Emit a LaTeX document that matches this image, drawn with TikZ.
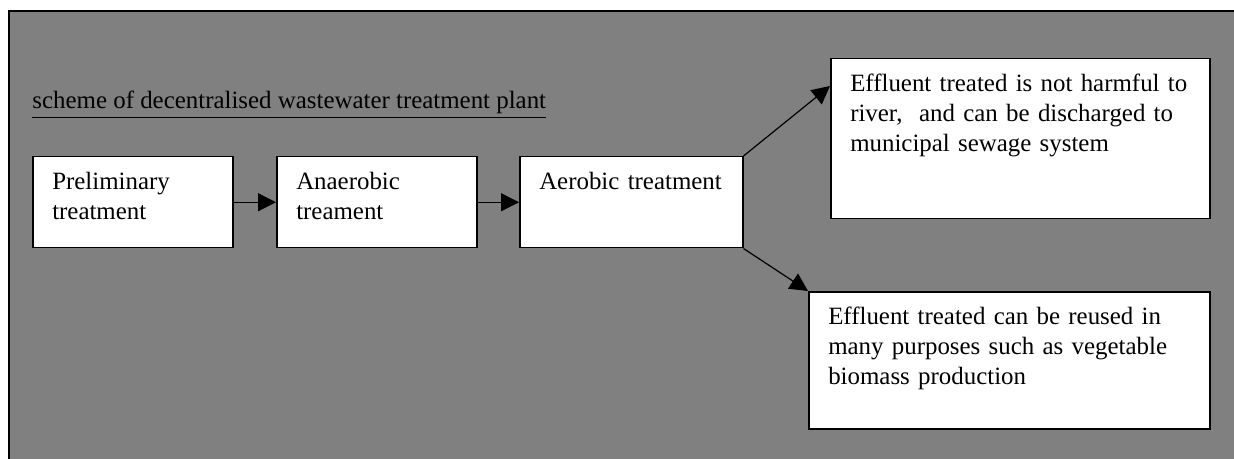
\documentclass[tikz,border=0pt]{standalone}
\usepackage{fontspec}
\setmainfont{Liberation Serif}
\usepackage{tikz}
\usetikzlibrary{positioning,calc,arrows.meta}
\definecolor{SchemeGray}{HTML}{808080}

\tikzset{
  stage/.style={draw, fill=white, line width=0.75pt, anchor=north west,
    align=left, inner xsep=9.75pt, inner ysep=0pt, text height=16.2pt,
    font=\fontsize{12.45}{15}\selectfont},
  flow/.style={line width=0.6pt, -{Triangle[length=9pt,width=9pt]}}
}

\begin{document}
\begin{tikzpicture}[x=0.5pt,y=-0.5pt]
        \useasboundingbox (0,0) rectangle (1234,459);
        \fill[white] (0,0) rectangle (1234,459);
        \fill[SchemeGray] (9,11) rectangle (1234,459);
        \draw[line width=1pt] (9,459) -- (9,11) -- (1234,11);
        \node[anchor=base west, inner sep=0pt, font=\fontsize{12.45}{15}\selectfont] (title) at (32,109)
          {\underline{scheme of decentralised wastewater treatment plant}};
        % treatment chain
        \node[stage, text width=80.5pt, text depth=29.3pt] (pre) at (32,156) {Preliminary\\treatment};
        \node[stage, text width=80.5pt, text depth=29.3pt] (ana) at (276,156) {Anaerobic\\treament};
        \node[stage, text width=92pt, text depth=29.3pt] (aer) at (519,156) {Aerobic treatment};
        % outlets
        \node[stage, text width=170pt, text depth=63.8pt] (riv) at (830,58)
          {Effluent treated is not harmful to\\river, \ and can be discharged to\\municipal sewage system};
        \node[stage, text width=181pt, text depth=52.3pt] (reu) at (808,291)
          {Effluent treated can be reused in\\many purposes such as vegetable\\biomass production};
        \draw[flow] (pre.east) -- (pre.east -| ana.west);
        \draw[flow] (ana.east) -- (ana.east -| aer.west);
        \draw[flow] (aer.north east) -- ([yshift=-14pt]riv.north west);
        \draw[flow] (aer.south east) -- (reu.north west);
      \end{tikzpicture}
\end{document}
